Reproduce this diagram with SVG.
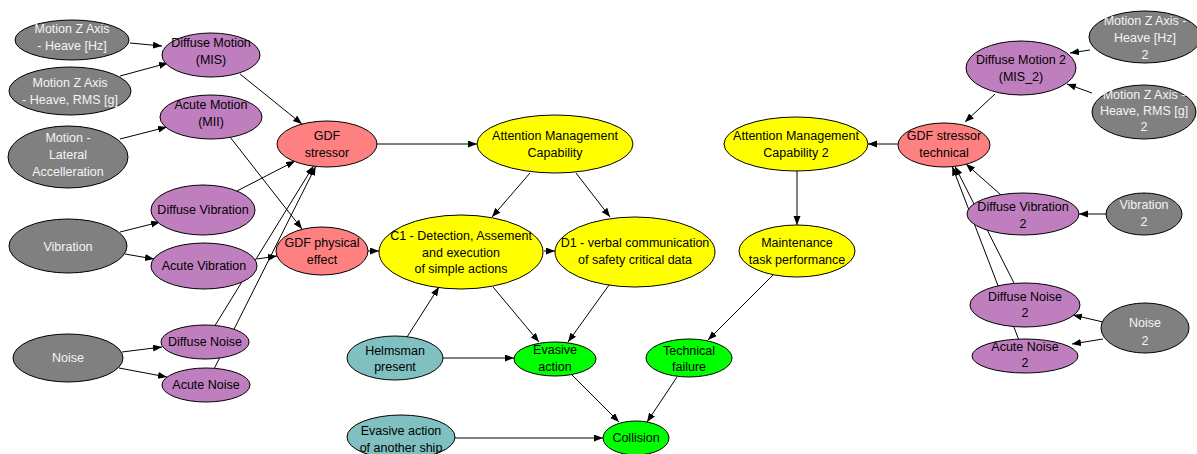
<svg xmlns="http://www.w3.org/2000/svg" width="1197" height="454" viewBox="0 0 1197 454">
<style>
.n ellipse{stroke:#000;stroke-width:1}
.g ellipse{fill:#808080}
.p ellipse{fill:#bf7fbf}
.r ellipse{fill:#ff8080}
.y ellipse{fill:#ffff00}
.gr ellipse{fill:#00ff00}
.t ellipse{fill:#80c0c0}
.n text{font-family:"Liberation Sans",Arial,sans-serif;font-size:12.5px;text-anchor:middle;fill:#000}
.g text{fill:#f4f4f4}
#edges line{stroke:#000;stroke-width:1;marker-end:url(#ah)}
</style>
<defs>
<marker id="ah" markerUnits="userSpaceOnUse" markerWidth="10" markerHeight="8" refX="9" refY="3.5" orient="auto">
<path d="M0,0 L9,3.5 L0,7 z" fill="#000"/>
</marker>
</defs>
<rect width="1197" height="454" fill="#fff"/>
<g id="edges">
<line x1="130" y1="43" x2="162" y2="46"/>
<line x1="120" y1="76" x2="168" y2="63"/>
<line x1="120" y1="139" x2="167" y2="127"/>
<line x1="240" y1="74" x2="302" y2="124"/>
<line x1="230" y1="137" x2="302" y2="229"/>
<line x1="237" y1="191" x2="295" y2="161"/>
<line x1="120" y1="232" x2="160" y2="222"/>
<line x1="125" y1="254" x2="154" y2="259"/>
<line x1="257" y1="259" x2="277" y2="256"/>
<line x1="215" y1="325.5" x2="313.4" y2="166.1"/>
<line x1="214.4" y1="368.3" x2="315.7" y2="166.4"/>
<line x1="122" y1="352" x2="162" y2="347"/>
<line x1="119" y1="368" x2="167" y2="377"/>
<line x1="377" y1="144" x2="477" y2="144"/>
<line x1="368" y1="251" x2="379" y2="251"/>
<line x1="530" y1="173" x2="492" y2="217"/>
<line x1="576" y1="173" x2="610" y2="217"/>
<line x1="544" y1="251" x2="555" y2="251"/>
<line x1="493" y1="287" x2="539" y2="342"/>
<line x1="609" y1="285" x2="568" y2="342"/>
<line x1="407" y1="337" x2="439" y2="287"/>
<line x1="443" y1="358" x2="514" y2="358"/>
<line x1="572" y1="375" x2="619" y2="422"/>
<line x1="677" y1="377" x2="647" y2="422"/>
<line x1="455" y1="438" x2="603" y2="438"/>
<line x1="773" y1="275" x2="708" y2="340"/>
<line x1="797" y1="171" x2="797" y2="225"/>
<line x1="898" y1="144" x2="868" y2="144"/>
<line x1="995" y1="94" x2="965" y2="122"/>
<line x1="1090" y1="50" x2="1070" y2="53"/>
<line x1="1092" y1="93" x2="1067" y2="84"/>
<line x1="1106" y1="214" x2="1079" y2="214"/>
<line x1="1103" y1="322" x2="1073" y2="315"/>
<line x1="1103" y1="339" x2="1072" y2="344"/>
<line x1="1001" y1="195" x2="966" y2="164"/>
<line x1="1014" y1="283" x2="955" y2="166.4"/>
<line x1="1018.5" y1="339" x2="952.3" y2="166.6"/>
</g>
<g id="mzh" class="n g"><ellipse cx="72" cy="40" rx="57" ry="20"/><text x="72" y="33">Motion Z Axis</text><text x="72" y="50">- Heave [Hz]</text></g>
<g id="mzr" class="n g"><ellipse cx="70" cy="91" rx="61" ry="24"/><text x="70" y="87">Motion Z Axis</text><text x="70" y="104">- Heave, RMS [g]</text></g>
<g id="mlat" class="n g"><ellipse cx="68" cy="157" rx="60" ry="31"/><text x="68" y="142">Motion -</text><text x="68" y="159">Lateral</text><text x="68" y="176">Accelleration</text></g>
<g id="dmot" class="n p"><ellipse cx="211" cy="55" rx="49" ry="22"/><text x="211" y="47">Diffuse Motion</text><text x="211" y="64">(MIS)</text></g>
<g id="amot" class="n p"><ellipse cx="211" cy="117" rx="51" ry="22"/><text x="211" y="109">Acute Motion</text><text x="211" y="126">(MII)</text></g>
<g id="gdfs" class="n r"><ellipse cx="327" cy="144" rx="50" ry="23"/><text x="327" y="140">GDF</text><text x="327" y="157">stressor</text></g>
<g id="dvib" class="n p"><ellipse cx="203" cy="210" rx="52" ry="25"/><text x="203" y="214">Diffuse Vibration</text></g>
<g id="vib" class="n g"><ellipse cx="68" cy="246" rx="59" ry="27"/><text x="68" y="251">Vibration</text></g>
<g id="avib" class="n p"><ellipse cx="204" cy="266" rx="53" ry="23"/><text x="204" y="270">Acute Vibration</text></g>
<g id="gdfp" class="n r"><ellipse cx="322" cy="251" rx="46" ry="24"/><text x="322" y="247">GDF physical</text><text x="322" y="264">effect</text></g>
<g id="noise" class="n g"><ellipse cx="68" cy="358" rx="55" ry="24"/><text x="68" y="362">Noise</text></g>
<g id="dnoise" class="n p"><ellipse cx="205" cy="342" rx="44" ry="17"/><text x="205" y="346">Diffuse Noise</text></g>
<g id="anoise" class="n p"><ellipse cx="206" cy="385" rx="44" ry="17"/><text x="206" y="389">Acute Noise</text></g>
<g id="amc" class="n y"><ellipse cx="555" cy="144" rx="78" ry="29"/><text x="555" y="140">Attention Management</text><text x="555" y="157">Capability</text></g>
<g id="c1" class="n y"><ellipse cx="461" cy="252" rx="82" ry="37"/><text x="461" y="240">C1 - Detection, Assement</text><text x="461" y="257">and execution</text><text x="461" y="273">of simple actions</text></g>
<g id="d1" class="n y"><ellipse cx="635" cy="252" rx="80" ry="35"/><text x="635" y="247">D1 - verbal communication</text><text x="635" y="264">of safety critical data</text></g>
<g id="helm" class="n t"><ellipse cx="395" cy="358" rx="48" ry="22"/><text x="395" y="355">Helmsman</text><text x="395" y="371">present</text></g>
<g id="evasive" class="n gr"><ellipse cx="555" cy="359" rx="41" ry="17"/><text x="555" y="354">Evasive</text><text x="555" y="371">action</text></g>
<g id="tech" class="n gr"><ellipse cx="689" cy="358" rx="43" ry="19"/><text x="689" y="355">Technical</text><text x="689" y="371">failure</text></g>
<g id="another" class="n t"><ellipse cx="401" cy="437" rx="54" ry="22"/><text x="401" y="435">Evasive action</text><text x="401" y="452">of another ship</text></g>
<g id="collision" class="n gr"><ellipse cx="636" cy="438" rx="33" ry="17"/><text x="636" y="442">Collision</text></g>
<g id="amc2" class="n y"><ellipse cx="796" cy="144" rx="72" ry="27"/><text x="796" y="140">Attention Management</text><text x="796" y="157">Capability 2</text></g>
<g id="gdft" class="n r"><ellipse cx="944" cy="145" rx="46" ry="22"/><text x="944" y="140">GDF stressor</text><text x="944" y="157">technical</text></g>
<g id="dmot2" class="n p"><ellipse cx="1021" cy="68" rx="55" ry="27"/><text x="1021" y="64">Diffuse Motion 2</text><text x="1021" y="81">(MIS_2)</text></g>
<g id="mzh2" class="n g"><ellipse cx="1145" cy="37" rx="56" ry="26"/><text x="1145" y="25">Motion Z Axis -</text><text x="1145" y="42">Heave [Hz]</text><text x="1145" y="59">2</text></g>
<g id="mzr2" class="n g"><ellipse cx="1144" cy="112" rx="52" ry="27"/><text x="1144" y="99">Motion Z Axis -</text><text x="1144" y="115">Heave, RMS [g]</text><text x="1144" y="131">2</text></g>
<g id="maint" class="n y"><ellipse cx="797" cy="251" rx="58" ry="26"/><text x="797" y="247">Maintenance</text><text x="797" y="264">task performance</text></g>
<g id="dvib2" class="n p"><ellipse cx="1023" cy="214" rx="56" ry="21"/><text x="1023" y="211">Diffuse Vibration</text><text x="1023" y="228">2</text></g>
<g id="vib2" class="n g"><ellipse cx="1144" cy="214" rx="38" ry="21"/><text x="1144" y="209">Vibration</text><text x="1144" y="226">2</text></g>
<g id="dnoise2" class="n p"><ellipse cx="1025" cy="305" rx="55" ry="22"/><text x="1025" y="301">Diffuse Noise</text><text x="1025" y="317">2</text></g>
<g id="anoise2" class="n p"><ellipse cx="1025" cy="356" rx="53" ry="17"/><text x="1025" y="351">Acute Noise</text><text x="1025" y="367">2</text></g>
<g id="noise2" class="n g"><ellipse cx="1145" cy="328" rx="44" ry="25"/><text x="1145" y="327">Noise</text><text x="1145" y="345">2</text></g>
</svg>
